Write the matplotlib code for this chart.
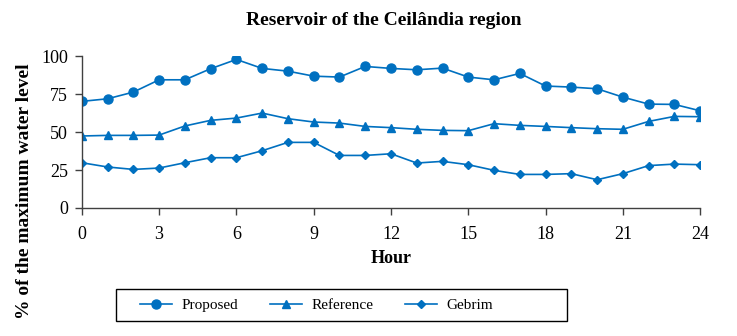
import numpy as np
import matplotlib
matplotlib.use("Agg")
import matplotlib.pyplot as plt
from matplotlib.patches import Rectangle

# data
hours = list(range(25))
proposed = [70.2, 71.9, 76.3, 84.4, 84.4, 91.7, 97.8, 91.9, 90.1, 86.8, 86.2, 93.2, 91.9,
            91.0, 92.1, 86.2, 84.4, 88.6, 80.3, 79.6, 78.5, 73.0, 68.4, 68.2, 64.0]
reference = [47.4, 47.8, 47.8, 48.0, 54.0, 57.7, 59.2, 62.5, 58.8, 56.6, 55.9, 53.7, 52.9,
             51.8, 51.1, 50.9, 55.5, 54.4, 53.7, 52.9, 52.2, 51.8, 57.0, 60.3, 60.1]
gebrim = [29.8, 27.0, 25.4, 26.3, 29.8, 33.1, 33.1, 37.7, 43.2, 43.2, 34.6, 34.6, 35.7,
          29.6, 30.7, 28.5, 24.8, 22.1, 22.1, 22.6, 18.6, 22.6, 27.9, 28.9, 28.5]
xticks = [0, 3, 6, 9, 12, 15, 18, 21, 24]
yticks = [0, 25, 50, 75, 100]

plt.rcParams['font.family'] = ['Liberation Serif', 'DejaVu Serif']
plt.rcParams['font.size'] = 13
col = "#0070C0"

fig = plt.figure(figsize=(7.37, 3.36), dpi=100)
ax = fig.add_axes([0.111, 0.381, 0.839, 0.452])

ax.plot(hours, proposed, "-o", color=col, lw=1.2, ms=6.5, label="Proposed")
ax.plot(hours, reference, "-^", color=col, lw=1.2, ms=5.5, label="Reference")
ax.plot(hours, gebrim, "-D", color=col, lw=1.2, ms=4.2, label="Gebrim")

ax.set_xlim(0, 24)
ax.set_ylim(0, 100)
ax.set_xticks(xticks)
ax.set_yticks(yticks)
ax.spines['top'].set_visible(False)
ax.spines['right'].set_visible(False)
for s in ['left', 'bottom']:
    ax.spines[s].set_color("#404040")
    ax.spines[s].set_linewidth(1.0)
ax.tick_params(colors="#404040", labelcolor="black", length=5, width=1.0)
ax.tick_params(axis='x', pad=8)
ax.tick_params(axis='y', pad=5)

fig.text(0.521, 0.938, "Reservoir of the Ceilândia region", fontweight="bold",
         fontsize=14, ha="center", va="center")
ax.set_xlabel("Hour", fontweight="bold", fontsize=13, labelpad=5)
fig.text(0.033, 0.432, "% of the maximum water level", fontweight="bold", fontsize=14,
         rotation=90, ha="center", va="center")

# legend entries without frame, box drawn separately (extra room on the right)
leg = fig.legend(loc="center left", bbox_to_anchor=(0.190, 0.092), ncol=3, frameon=False,
                 fontsize=11, handlelength=2.1, handletextpad=0.6,
                 columnspacing=2.1, borderpad=0, borderaxespad=0)
fig.patches.append(Rectangle((0.157, 0.045), 0.612, 0.095, transform=fig.transFigure,
                             fill=False, edgecolor="black", lw=1.0))

plt.savefig("out.png", dpi=100)
